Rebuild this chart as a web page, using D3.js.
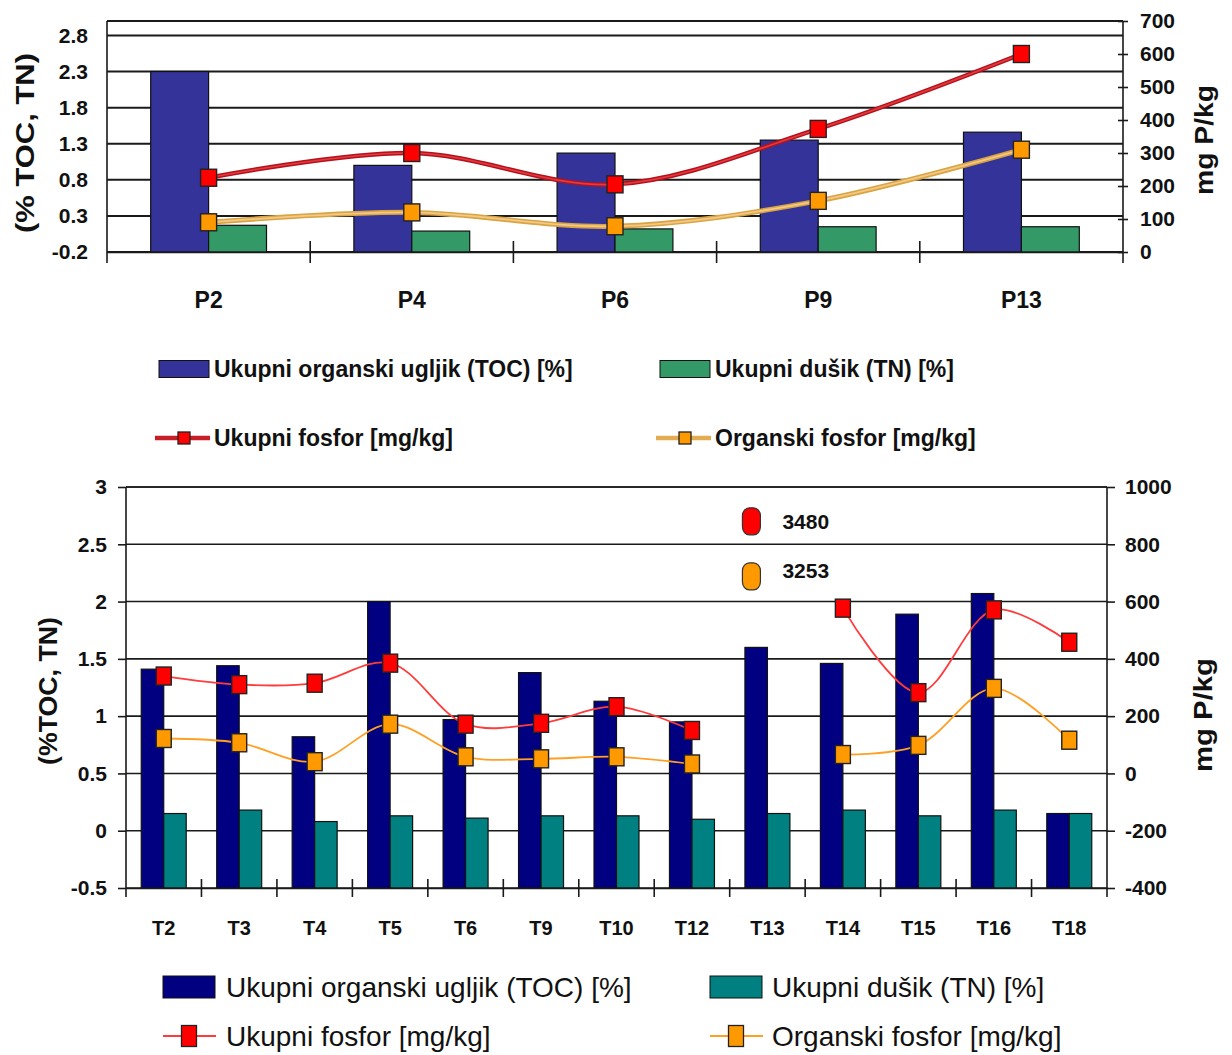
<!DOCTYPE html>
<html><head><meta charset="utf-8">
<script src="https://cdn.jsdelivr.net/npm/d3@7"></script>
<style>
body{margin:0;background:#fff}
svg{display:block}
text{font-family:"Liberation Sans",Arial,Helvetica,sans-serif;fill:#111}
</style>
</head><body>
<svg id="c" width="1232" height="1055"></svg>
<script>
// ---------- Top chart data ----------
const topCategories = ["P2", "P4", "P6", "P9", "P13"];
const topTOC = [2.3, 1.0, 1.17, 1.35, 1.46];
const topTN = [0.17, 0.09, 0.12, 0.15, 0.15];
const topTotalP = [225, 300, 205, 373, 600];
const topOrganicP = [90, 120, 78, 155, 310];
const topLeftTicks = [-0.2, 0.3, 0.8, 1.3, 1.8, 2.3, 2.8];
const topRightTicks = [0, 100, 200, 300, 400, 500, 600, 700];

// ---------- Bottom chart data ----------
const botCategories = ["T2", "T3", "T4", "T5", "T6", "T9", "T10", "T12", "T13", "T14", "T15", "T16", "T18"];
const botTOC = [1.41, 1.44, 0.82, 2.0, 0.97, 1.38, 1.13, 0.95, 1.6, 1.46, 1.89, 2.07, 0.15];
const botTN = [0.15, 0.18, 0.08, 0.13, 0.11, 0.13, 0.13, 0.10, 0.15, 0.18, 0.13, 0.18, 0.15];
const botTotalP = [340, 310, 315, 385, 172, 175, 233, 150, null, 577, 282, 571, 458];
const botOrganicP = [122, 107, 41, 172, 58, 51, 58, 33, null, 66, 98, 297, 116];
const botLeftTicks = [-0.5, 0, 0.5, 1, 1.5, 2, 2.5, 3];
const botRightTicks = [-400, -200, 0, 200, 400, 600, 800, 1000];
// off-scale values shown as labelled symbols (category T13)
const botOutlierLabels = ["3480", "3253"];
const botOutlierDisplayAt = [880, 688]; // where the symbol is parked on the right axis

const legendLabels = ["Ukupni organski ugljik (TOC) [%]", "Ukupni dušik (TN) [%]", "Ukupni fosfor [mg/kg]", "Organski fosfor [mg/kg]"];

const svg = d3.select("#c");

function drawChart(o) {
  const g = svg.append("g");
  const x = d3.scaleBand().domain(o.categories).range([o.left, o.right]);
  const yL = d3.scaleLinear().domain(o.leftDomain).range([o.bottom, o.top]);
  const yR = d3.scaleLinear().domain(o.rightDomain).range([o.bottom, o.top]);
  const cx = c => x(c) + x.bandwidth() / 2;

  // gridlines
  g.append("g").selectAll("line").data(o.leftTicks).join("line")
    .attr("x1", o.left).attr("x2", o.right)
    .attr("y1", d => yL(d)).attr("y2", d => yL(d))
    .attr("stroke", "#1a1a1a").attr("stroke-width", o.gridW);
  // top border
  g.append("line").attr("x1", o.left).attr("x2", o.right).attr("y1", o.top).attr("y2", o.top)
    .attr("stroke", "#1a1a1a").attr("stroke-width", o.gridW);

  // bars
  const bw = x.bandwidth() * o.barFrac;
  const base = yL(o.leftDomain[0]);
  const barSeries = [{vals: o.toc, color: o.tocColor, off: -bw}, {vals: o.tn, color: o.tnColor, off: 0}];
  barSeries.forEach(s => {
    g.append("g").selectAll("rect").data(o.categories).join("rect")
      .attr("x", (c) => cx(c) + s.off)
      .attr("width", bw)
      .attr("y", (c, i) => yL(s.vals[i]))
      .attr("height", (c, i) => base - yL(s.vals[i]))
      .attr("fill", s.color).attr("stroke", "#111").attr("stroke-width", 1.2);
  });

  // lines
  const lineSeries = [
    {vals: o.totalP, layers: o.redLayers, fill: "#ff0000"},
    {vals: o.organicP, layers: o.orangeLayers, fill: "#ff9900"}
  ];
  lineSeries.forEach(s => {
    const pts = o.categories.map((c, i) => [cx(c), s.vals[i] == null ? null : yR(s.vals[i])]);
    const line = d3.line().defined(p => p[1] != null).curve(d3.curveCatmullRom.alpha(0.5));
    s.layers.forEach(l => {
      g.append("path").attr("d", line(pts)).attr("fill", "none")
        .attr("stroke", l.color).attr("stroke-width", l.width).attr("stroke-linejoin", "round");
    });
  });
  lineSeries.forEach(s => {
    g.append("g").selectAll("rect").data(o.categories.map((c, i) => ({c, v: s.vals[i]})).filter(d => d.v != null))
      .join("rect")
      .attr("x", d => cx(d.c) - o.mw / 2).attr("y", d => yR(d.v) - o.mh / 2)
      .attr("width", o.mw).attr("height", o.mh)
      .attr("fill", s.fill).attr("stroke", "#222").attr("stroke-width", 1.4);
  });

  // left axis
  const la = g.append("g").attr("transform", `translate(${o.left},0)`)
    .call(d3.axisLeft(yL).tickValues(o.leftTicks).tickSizeOuter(0).tickSizeInner(o.leftTickLen).tickPadding(o.leftPad).tickFormat(o.leftFmt));
  la.select(".domain").remove();
  la.selectAll(".tick line").attr("stroke", "#1a1a1a").attr("stroke-width", 1.6);
  la.selectAll("text").attr("font-size", o.tickFont).attr("font-weight", "bold").attr("fill", "#1a1a1a").attr("font-family", "Liberation Sans, Arial, sans-serif");
  g.append("line").attr("x1", o.left).attr("x2", o.left).attr("y1", o.top).attr("y2", o.bottom + o.xTickDown)
    .attr("stroke", "#1a1a1a").attr("stroke-width", 1.6);

  // right axis
  const ra = g.append("g").attr("transform", `translate(${o.right},0)`)
    .call(d3.axisRight(yR).tickValues(o.rightTicks).tickSizeOuter(0).tickSizeInner(o.rightTickLen).tickPadding(o.rightPad).tickFormat(d => String(d)));
  ra.select(".domain").remove();
  ra.selectAll(".tick line").attr("x1", -o.rightTickBack).attr("stroke", "#1a1a1a").attr("stroke-width", 1.6);
  ra.selectAll("text").attr("font-size", o.tickFont).attr("font-weight", "bold").attr("fill", "#1a1a1a").attr("font-family", "Liberation Sans, Arial, sans-serif");
  g.append("line").attr("x1", o.right).attr("x2", o.right).attr("y1", o.top).attr("y2", o.bottom + o.xTickDown)
    .attr("stroke", "#1a1a1a").attr("stroke-width", 1.6);

  // bottom axis
  const ba = g.append("g").attr("transform", `translate(0,${o.bottom})`)
    .call(d3.axisBottom(x).tickSize(0).tickPadding(o.xPad));
  ba.select(".domain").attr("stroke", "#1a1a1a").attr("stroke-width", 1.6);
  ba.selectAll("text").attr("font-size", o.xFont).attr("font-weight", "bold").attr("fill", "#1a1a1a").attr("font-family", "Liberation Sans, Arial, sans-serif");
  g.append("g").selectAll("line").data(o.categories.slice(1)).join("line")
    .attr("x1", c => x(c)).attr("x2", c => x(c))
    .attr("y1", o.bottom - o.xTickUp).attr("y2", o.bottom + o.xTickDown)
    .attr("stroke", "#1a1a1a").attr("stroke-width", 1.6);

  // axis titles
  g.append("text").attr("transform", `translate(${o.lTitleX},${o.lTitleY}) rotate(-90)`)
    .attr("text-anchor", "middle").attr("dominant-baseline", "central")
    .attr("font-size", o.titleFont).attr("font-weight", "bold").attr("fill", "#222")
    .attr("textLength", o.lTitleLen).attr("lengthAdjust", "spacingAndGlyphs")
    .text(o.leftTitle);
  g.append("text").attr("transform", `translate(${o.rTitleX},${o.rTitleY}) rotate(-90)`)
    .attr("text-anchor", "middle").attr("dominant-baseline", "central")
    .attr("font-size", o.titleFont).attr("font-weight", "bold").attr("fill", "#222")
    .attr("textLength", o.rTitleLen).attr("lengthAdjust", "spacingAndGlyphs")
    .text("mg P/kg");

  return {x, yL, yR, cx, g};
}

// ---------- Top chart ----------
drawChart({
  categories: topCategories, toc: topTOC, tn: topTN, totalP: topTotalP, organicP: topOrganicP,
  left: 107, right: 1123, top: 21, bottom: 252,
  leftDomain: [-0.2, 3.0], rightDomain: [0, 700],
  leftTicks: topLeftTicks, rightTicks: topRightTicks,
  leftFmt: d => d.toFixed(1),
  barFrac: 0.285, tocColor: "#333399", tnColor: "#339966",
  redLayers: [{color: "#b3121c", width: 4.5}, {color: "#e43a3f", width: 1.6}],
  orangeLayers: [{color: "#d9a441", width: 5}, {color: "#f3c888", width: 1.8}],
  mw: 16, mh: 17, gridW: 2,
  leftTickLen: 0, leftPad: 19, rightTickLen: 5, rightTickBack: 5, rightPad: 12,
  tickFont: 21, xFont: 23, xPad: 40,
  xTickUp: 11, xTickDown: 11,
  titleFont: 25,
  leftTitle: "(% TOC, TN)", lTitleX: 25, lTitleY: 143, lTitleLen: 180,
  rTitleX: 1204, rTitleY: 140, rTitleLen: 110
});

// ---------- Bottom chart ----------
const bot = drawChart({
  categories: botCategories, toc: botTOC, tn: botTN, totalP: botTotalP, organicP: botOrganicP,
  left: 126, right: 1107, top: 487, bottom: 888,
  leftDomain: [-0.5, 3], rightDomain: [-400, 1000],
  leftTicks: botLeftTicks, rightTicks: botRightTicks,
  leftFmt: d => String(d),
  barFrac: 0.298, tocColor: "#000080", tnColor: "#008080",
  redLayers: [{color: "#ff3b3b", width: 1.8}],
  orangeLayers: [{color: "#ffa024", width: 1.8}],
  mw: 15, mh: 18, gridW: 1.6,
  leftTickLen: 8, leftPad: 11, rightTickLen: 8, rightTickBack: 0, rightPad: 10,
  tickFont: 21, xFont: 20, xPad: 33,
  xTickUp: 9, xTickDown: 9,
  titleFont: 25,
  leftTitle: "(%TOC, TN)", lTitleX: 48, lTitleY: 691, lTitleLen: 148,
  rTitleX: 1203, rTitleY: 715, rTitleLen: 114
});

// off-scale annotations at T13
const outColors = ["#ff0000", "#ff9900"];
botOutlierLabels.forEach((lab, i) => {
  const px = bot.cx("T13") - 16, py = bot.yR(botOutlierDisplayAt[i]);
  bot.g.append("rect").attr("x", px - 9).attr("y", py - 13.5).attr("width", 18).attr("height", 27)
    .attr("rx", 7).attr("ry", 8).attr("fill", outColors[i]).attr("stroke", "#333").attr("stroke-width", 1.2);
  bot.g.append("text").attr("x", px + 31).attr("y", py + (i === 0 ? 8 : 2))
    .attr("font-size", 21).attr("font-weight", "bold").attr("fill", "#111").text(lab);
});

// ---------- Legends ----------
function legend(items, o) {
  const g = svg.append("g");
  items.forEach((it, i) => {
    const col = i % 2, row = Math.floor(i / 2);
    const sx = o.sx[col], cy = o.rows[row];
    if (it.type === "rect") {
      g.append("rect").attr("x", sx).attr("y", cy - o.rh / 2).attr("width", o.rw).attr("height", o.rh)
        .attr("fill", it.color).attr("stroke", "#111").attr("stroke-width", 1);
    } else {
      it.layers.forEach(l => g.append("line").attr("x1", sx - o.lext).attr("x2", sx + o.rw + 1).attr("y1", cy).attr("y2", cy)
        .attr("stroke", l.color).attr("stroke-width", l.width));
      g.append("rect").attr("x", sx + o.rw / 2 - o.mw / 2).attr("y", cy - o.mh / 2).attr("width", o.mw).attr("height", o.mh)
        .attr("fill", it.color).attr("stroke", "#222").attr("stroke-width", 1.3);
    }
    g.append("text").attr("x", o.tx[col]).attr("y", cy).attr("dominant-baseline", "central")
      .attr("font-size", o.font).attr("font-weight", o.weight).attr("fill", "#111").text(it.label);
  });
}

legend([
  {type: "rect", color: "#333399", label: legendLabels[0]},
  {type: "rect", color: "#339966", label: legendLabels[1]},
  {type: "line", color: "#ff0000", layers: [{color: "#c81e28", width: 4.5}], label: legendLabels[2]},
  {type: "line", color: "#ff9900", layers: [{color: "#e2ad50", width: 4.5}], label: legendLabels[3]}
], {sx: [159, 660], tx: [214, 715], rows: [369, 438], rw: 50, rh: 17, mw: 12, mh: 12, lext: 4, font: 23, weight: "bold"});

legend([
  {type: "rect", color: "#000080", label: legendLabels[0]},
  {type: "rect", color: "#008080", label: legendLabels[1]},
  {type: "line", color: "#ff0000", layers: [{color: "#ff3b3b", width: 1.8}], label: legendLabels[2]},
  {type: "line", color: "#ff9900", layers: [{color: "#ffa024", width: 1.8}], label: legendLabels[3]}
], {sx: [163, 710], tx: [226, 772], rows: [987, 1036], rw: 52, rh: 22, mw: 15, mh: 21, lext: 0, font: 28, weight: "normal"});
</script>
</body></html>
